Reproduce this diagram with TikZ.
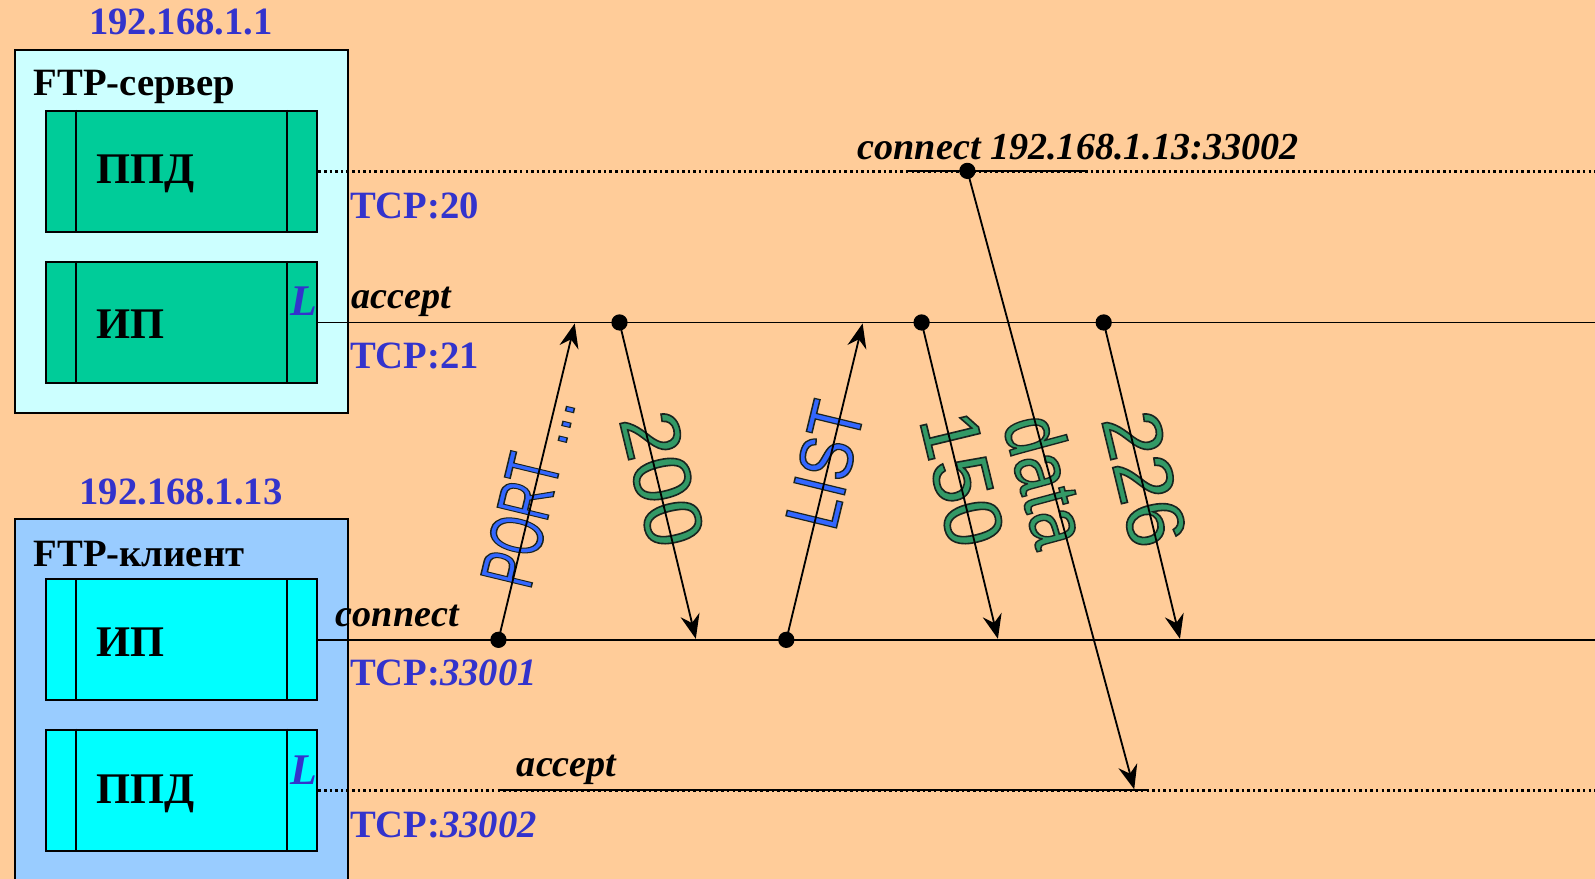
\documentclass[tikz,border=0pt]{standalone}
\usepackage{fontspec}
\setmainfont{Liberation Serif}
\setsansfont{Liberation Sans}
\newfontface\lblface[FakeBold=2]{Liberation Sans}
\usetikzlibrary{arrows.meta}

\definecolor{bgpeach}{HTML}{FFCC99}
\definecolor{srvfill}{HTML}{CCFFFF}
\definecolor{srvgreen}{HTML}{00CC99}
\definecolor{clifill}{HTML}{99CCFF}
\definecolor{cliaqua}{HTML}{00FFFF}
\definecolor{ipblue}{HTML}{3333CC}
\definecolor{cmdblue}{HTML}{3366FF}
\definecolor{rplgreen}{HTML}{339966}

% dark rim round the arrow labels
\newcommand{\outl}[1]{\special{pdf:literal direct 0.1 0.14 0.12 RG}#1}

\tikzset{
  hostbox/.style={draw, line width=2.2pt},
  inbox/.style={draw, line width=2.2pt, minimum width=267pt, minimum height=119pt, inner sep=0},
  addr/.style={font=\fontsize{38}{38}\selectfont\bfseries, text=ipblue, inner sep=0},
  hosttxt/.style={font=\fontsize{38}{38}\selectfont\bfseries, inner sep=0, anchor=west},
  boxtxt/.style={font=\fontsize{43}{43}\selectfont\bfseries, inner sep=0, anchor=west},
  port/.style={font=\fontsize{38}{38}\selectfont\bfseries, text=ipblue, inner sep=0, anchor=west},
  call/.style={font=\fontsize{37.5}{37.5}\selectfont\bfseries\itshape, inner sep=0, anchor=west},
  lmark/.style={font=\fontsize{43}{43}\selectfont\bfseries\itshape, text=ipblue, inner sep=0},
  cmd/.style={font=\lblface\fontsize{74}{74}\selectfont, text=cmdblue, inner sep=0},
  rpl/.style={font=\lblface\fontsize{80}{80}\selectfont, text=rplgreen, inner sep=0},
  dot/.style={circle, fill=black, minimum size=16pt, inner sep=0},
  msg/.style={->, line width=1.8pt},
  wire/.style={line width=1.8pt},
  dots/.style={line width=2.5pt, dash pattern=on 2.5pt off 3pt}
}

\begin{document}
\begin{tikzpicture}[x=1pt,y=-1pt,>={Stealth[length=24pt,width=19pt,inset=8pt]}]
  \fill[bgpeach] (0,0) rectangle (1568,864);
  \useasboundingbox (0,0) rectangle (1568,864);
  \coordinate (re) at (1568,0);

  % server
  \node[addr] (ipsrv) at (178,22) {192.168.1.1};
  \draw[hostbox, fill=srvfill] (15,49) rectangle (342,406);
  \node[hosttxt] (srvname) at (33,85) {FTP-сервер};
  \node[inbox, fill=srvgreen] (sppd) at (178.5,168.5) {};
  \node[inbox, fill=srvgreen] (sip) at (178.5,317) {};
  \foreach \b in {sppd,sip}{
    \draw[line width=1.8pt] ([xshift=31pt]\b.north west) -- ([xshift=31pt]\b.south west);
    \draw[line width=1.8pt] ([xshift=-31pt]\b.north east) -- ([xshift=-31pt]\b.south east);
  }
  \node[boxtxt] (sppdtxt) at (95,171) {ППД};
  \node[boxtxt] (siptxt) at (95,319) {ИП};
  \node[lmark] (sl) at (299,296) {L};
  \draw[dots] (sppd.east) -- (sppd.east -| re);
  \draw[wire] (sip.east) -- (sip.east -| re);
  \node[port] (tcp20) at (344,202) {TCP:20};
  \node[call] (acc1) at (345,297) {accept};
  \node[port] (tcp21) at (344,350) {TCP:21};

  % client
  \node[addr] (ipcli) at (178,484) {192.168.1.13};
  \draw[hostbox, fill=clifill] (15,510) rectangle (342,890);
  \node[hosttxt] (cliname) at (33,545) {FTP-клиент};
  \node[inbox, fill=cliaqua] (cip) at (178.5,629) {};
  \node[inbox, fill=cliaqua] (cppd) at (178.5,777) {};
  \foreach \b in {cip,cppd}{
    \draw[line width=1.8pt] ([xshift=31pt]\b.north west) -- ([xshift=31pt]\b.south west);
    \draw[line width=1.8pt] ([xshift=-31pt]\b.north east) -- ([xshift=-31pt]\b.south east);
  }
  \node[boxtxt] (ciptxt) at (95,631) {ИП};
  \node[boxtxt] (cppdtxt) at (95,780) {ППД};
  \node[lmark] (cl) at (299,757) {L};
  \draw[wire] (cip.east) -- (cip.east -| re);
  \draw[dots] (cppd.east) -- (cppd.east -| re);
  \node[call] (conn1) at (330,606) {connect};
  \node[port] (tcp33001) at (344,662) {TCP:\textit{33001}};
  \node[call] (acc2) at (508,757) {accept};
  \node[port] (tcp33002) at (344,811) {TCP:\textit{33002}};
  \draw[wire] (490,777) -- (1130,777);

  % data connection call
  \node[call] (conn2) at (843,145) {connect 192.168.1.13:33002};
  \draw[wire] (891,168) -- (1070,168);

  % labels on arrows
  \node[cmd, rotate=76.4, xscale=0.64] (lport) at (519,482) {\outl{PORT …}};
  \node[rpl, rotate=-76.4] (l200) at (651,471) {\outl{200}};
  \node[cmd, rotate=76.4, xscale=0.8] (llist) at (811,457) {\outl{LIST}};
  \node[rpl, rotate=-76.4] (l150) at (946,471) {\outl{150}};
  \node[rpl, rotate=-74.9, xscale=0.84] (ldata) at (1030,472) {\outl{data}};
  \node[rpl, rotate=-76.4] (l226) at (1125,471) {\outl{226}};

  % dots and arrows
  \node[dot] (dport) at (490,629) {};
  \node[dot] (d200) at (609,317) {};
  \node[dot] (dlist) at (773,629) {};
  \node[dot] (d150) at (906,317) {};
  \node[dot] (ddata) at (951,168) {};
  \node[dot] (d226) at (1085,317) {};
  \coordinate (aport) at (565,318);
  \coordinate (a200) at (684,628);
  \coordinate (alist) at (848,318);
  \coordinate (a150) at (981,628);
  \coordinate (adata) at (1115,776);
  \coordinate (a226) at (1160,628);
  \draw[msg] (dport.center) -- (aport);
  \draw[msg] (d200.center) -- (a200);
  \draw[msg] (dlist.center) -- (alist);
  \draw[msg] (d150.center) -- (a150);
  \draw[msg] (ddata.center) -- (adata);
  \draw[msg] (d226.center) -- (a226);
\end{tikzpicture}
\end{document}
